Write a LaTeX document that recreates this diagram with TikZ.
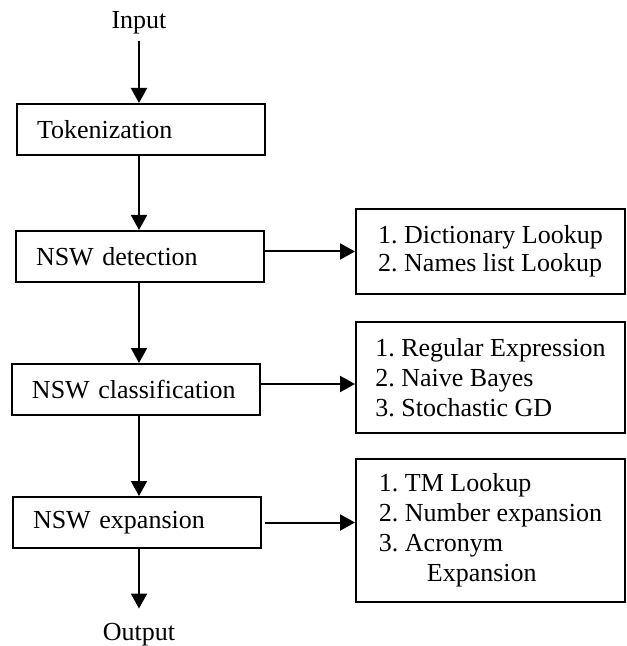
\documentclass[tikz,border=0pt]{standalone}
\usepackage{fontspec}
\setmainfont{Liberation Serif}
\usetikzlibrary{arrows.meta, positioning}

\begin{document}
\begin{tikzpicture}[
    x=0.5pt, y=-0.5pt,
    >={Triangle[length=7.5pt, width=8pt]},
    stage/.style={draw, line width=1pt, anchor=north west, minimum height=25.5pt, text width=104pt, inner xsep=10pt, align=left, font=\fontsize{13}{15}\selectfont\frenchspacing},
    method/.style={draw, line width=1pt, anchor=north west, minimum width=134.5pt, align=left, font=\fontsize{13}{15}\selectfont\frenchspacing},
    term/.style={font=\fontsize{13}{15}\selectfont},
    flow/.style={->, line width=1pt},
]
    \useasboundingbox (0,0) rectangle (626,646);
    % pipeline
    \node[term] (inp) at (139,23) {Input};
    \node[stage] (tok) at (16,103) {Tokenization};
    \node[stage] (det) at (15,230) {NSW detection};
    \node[stage] (cls) at (11,363) {NSW classification};
    \node[stage] (exp) at (12,496) {NSW expansion};
    \node[term] (outp) at (139,635) {Output};
    % methods
    \node[method, minimum height=42.5pt, font=\fontsize{13}{14}\selectfont\frenchspacing] (dl) at (355,208) {1. Dictionary Lookup\\2. Names list Lookup};
    \node[method, minimum height=55.5pt] (cl) at (355,321) {1. Regular Expression\\2. Naive Bayes\\3. Stochastic GD};
    \node[method, minimum height=71.5pt] (ex) at (355,458) {1. TM Lookup\\2. Number expansion\\3. Acronym\\\hspace*{24pt}Expansion};
    % arrows
    \draw[flow] (inp.south) -- (inp.south |- tok.north);
    \draw[flow] (tok.south -| inp) -- (det.north -| inp);
    \draw[flow] (det.south -| inp) -- (cls.north -| inp);
    \draw[flow] (cls.south -| inp) -- (exp.north -| inp);
    \draw[flow, shorten >=4pt] (exp.south -| inp) -- (outp.north);
    \draw[flow] (dl.west -| det.east) -- (dl.west);
    \draw[flow] ([yshift=2.75pt]cls.east) -- ([yshift=2.75pt]cls.east -| cl.west);
    \draw[flow, shorten <=1.5pt] (exp.east) -- (exp.east -| ex.west);
\end{tikzpicture}
\end{document}
